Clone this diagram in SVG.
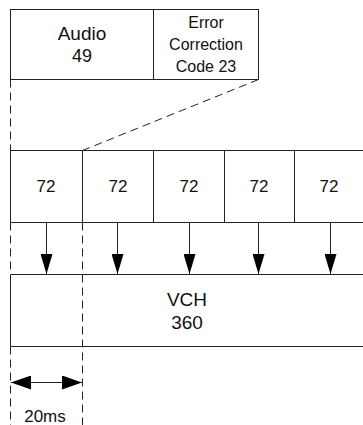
<svg xmlns="http://www.w3.org/2000/svg" width="363" height="425" viewBox="0 0 363 425">
<style>
.box{fill:#fff;stroke:#222;stroke-width:1}
.ln{stroke:#222;stroke-width:1;fill:none}
.dash{stroke:#222;stroke-width:1;fill:none;stroke-dasharray:8,5}
text{font-family:"Liberation Sans",Arial,sans-serif;fill:#111;text-anchor:middle}
.t19{font-size:19px}
.t18{font-size:18px}
.t16{font-size:16px}
.t17{font-size:17px}
</style>
<defs>
<marker id="ah" viewBox="0 0 20 12" refX="20" refY="6" markerWidth="20" markerHeight="12" markerUnits="userSpaceOnUse" orient="auto">
<path d="M0,0 L20,6 L0,12 Z" fill="#000"/>
</marker>
<marker id="ah2" viewBox="0 0 20 14" refX="20" refY="7" markerWidth="20" markerHeight="14" markerUnits="userSpaceOnUse" orient="auto-start-reverse">
<path d="M0,0 L20,7 L0,14 Z" fill="#000"/>
</marker>
</defs>
<g id="audio">
<rect class="box" x="10.5" y="9.5" width="143" height="70"/>
<text class="t19" x="82" y="40">Audio</text>
<text class="t18" x="82" y="62">49</text>
</g>
<g id="ecc">
<rect class="box" x="153.5" y="9.5" width="105" height="70"/>
<text class="t16" x="206" y="28">Error</text>
<text class="t16" x="206" y="50">Correction</text>
<text class="t16" x="206" y="72">Code 23</text>
</g>
<g id="frame1">
<rect class="box" x="10.5" y="150.5" width="72" height="72"/>
<text class="t17" x="46" y="192">72</text>
</g>
<g id="frame2">
<rect class="box" x="82.5" y="150.5" width="71" height="72"/>
<text class="t17" x="118" y="192">72</text>
</g>
<g id="frame3">
<rect class="box" x="153.5" y="150.5" width="71" height="72"/>
<text class="t17" x="189" y="192">72</text>
</g>
<g id="frame4">
<rect class="box" x="224.5" y="150.5" width="70" height="72"/>
<text class="t17" x="259" y="192">72</text>
</g>
<g id="frame5">
<path class="ln" d="M294.5,150.5 H363 M294.5,222.5 H363"/>
<text class="t17" x="329" y="192">72</text>
</g>
<g id="vch">
<path class="ln" d="M363,274.5 H10.5 V346.5 H363"/>
<text class="t19" x="187" y="306">VCH</text>
<text class="t19" x="187" y="329">360</text>
</g>
<g id="connectors">
<path class="dash" d="M258.5,79.5 L82.5,150.5"/>
<path class="dash" d="M10.5,79.5 V150.5"/>
<path class="dash" d="M10.5,222.5 V274.5"/>
<path class="dash" d="M10.5,346.5 V425"/>
<path class="dash" d="M82.5,222.5 V425"/>
<line class="ln" x1="46.5" y1="222.5" x2="46.5" y2="274" marker-end="url(#ah)"/>
<line class="ln" x1="117.5" y1="222.5" x2="117.5" y2="274" marker-end="url(#ah)"/>
<line class="ln" x1="189.5" y1="222.5" x2="189.5" y2="274" marker-end="url(#ah)"/>
<line class="ln" x1="258.5" y1="222.5" x2="258.5" y2="274" marker-end="url(#ah)"/>
<line class="ln" x1="330.5" y1="222.5" x2="330.5" y2="274" marker-end="url(#ah)"/>
<line class="ln" x1="11" y1="382.5" x2="82" y2="382.5" marker-start="url(#ah2)" marker-end="url(#ah2)"/>
</g>
<text class="t17" x="45" y="422">20ms</text>
</svg>
